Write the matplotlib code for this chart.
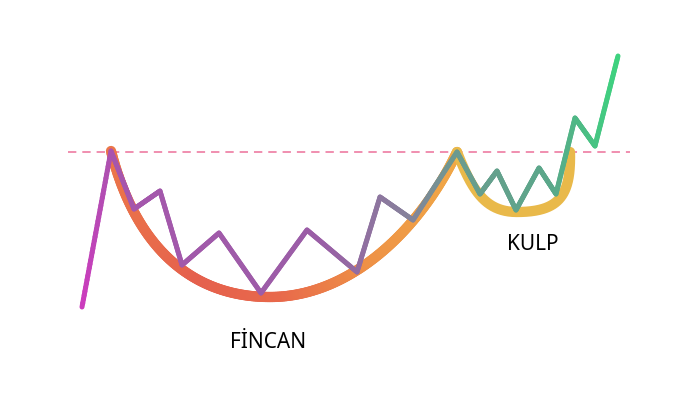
"""
 Title:         Cup and handle
 Description:   Draws a cup and handle pattern with a price line
"""

# Libraries
import numpy as np
import matplotlib
matplotlib.use("Agg")
import matplotlib.pyplot as plt
from matplotlib.collections import LineCollection
from matplotlib.colors import LinearSegmentedColormap

# Price path (x position, price)
price_x = [82, 111, 134, 160, 182, 219, 261, 307, 357, 380, 413, 457, 480, 497, 516, 539, 556, 575, 595, 618]
price_y = [93, 249, 191, 209, 135, 167, 107, 170, 128, 203, 180, 248, 206, 229, 190, 232, 206, 282, 254, 344]

# Cup and handle shapes (bezier control points)
cup_left_x = [111, 135, 190, 270]
cup_left_y = [249, 155, 103, 103]
cup_right_x = [270, 350, 420, 457]
cup_right_y = [103, 103, 170, 248]
handle_left_x = [457, 472, 485, 517]
handle_left_y = [248, 210, 188, 188]
handle_right_x = [517, 560, 571, 570]
handle_right_y = [188, 188, 205, 248]

# Resistance level and labels
resistance = 248
resistance_span = [68, 630]
labels = ["FİNCAN", "KULP"]
label_x = [268, 533]
label_y = [58, 155]

def bezier(xs:list, ys:list, n:int=120) -> tuple:
    """
    Samples a cubic bezier curve
    """
    t = np.linspace(0, 1, n)
    w = [(1-t)**3, 3*(1-t)**2*t, 3*(1-t)*t**2, t**3]
    x = sum(w[i]*xs[i] for i in range(4))
    y = sum(w[i]*ys[i] for i in range(4))
    return x, y

def gradient_line(ax, x, y, stops:list, lw:float, zorder:int) -> None:
    """
    Plots a line coloured by its x position
    """
    cmap = LinearSegmentedColormap.from_list("grad", stops)
    points = np.column_stack([x, y]).reshape(-1, 1, 2)
    segments = np.concatenate([points[:-1], points[1:]], axis=1)
    xm = (np.asarray(x)[:-1] + np.asarray(x)[1:]) / 2
    lc = LineCollection(segments, cmap=cmap, linewidths=lw, capstyle="round",
                        joinstyle="round", zorder=zorder)
    lc.set_array((xm - min(x)) / (max(x) - min(x)))
    lc.set_clim(0, 1)
    ax.add_collection(lc)

def densify(xs:list, ys:list, n:int=40) -> tuple:
    """
    Adds points along each straight segment so the gradient is smooth
    """
    x_out, y_out = [], []
    for i in range(len(xs)-1):
        t = np.linspace(0, 1, n, endpoint=False)
        x_out.extend(xs[i] + (xs[i+1]-xs[i])*t)
        y_out.extend(ys[i] + (ys[i+1]-ys[i])*t)
    x_out.append(xs[-1])
    y_out.append(ys[-1])
    return np.array(x_out), np.array(y_out)

# Initialise the plot
plt.rcParams["lines.scale_dashes"] = False
fig = plt.figure(figsize=(7, 4), dpi=100)
ax = fig.add_axes([0, 0, 1, 1])
ax.set_xlim(0, 700)
ax.set_ylim(0, 400)
ax.axis("off")

# Resistance line
ax.plot(resistance_span, [resistance, resistance], color="#ee7ba2", lw=1.2,
        dashes=(6, 4.3), zorder=1)

# Cup
lx, ly = bezier(cup_left_x, cup_left_y)
rx, ry = bezier(cup_right_x, cup_right_y)
cx = np.concatenate([lx, rx[1:]])
cy = np.concatenate([ly, ry[1:]])
gradient_line(ax, cx, cy, ["#eb7649", "#e5604d", "#e8694b", "#ee9146", "#f0a846"], 7.4, 2)

# Handle
hlx, hly = bezier(handle_left_x, handle_left_y)
hrx, hry = bezier(handle_right_x, handle_right_y)
hx = np.concatenate([hlx, hrx[1:]])
hy = np.concatenate([hly, hry[1:]])
ax.plot(hx, hy, color="#e9b94a", lw=7.4, solid_capstyle="round", zorder=3)

# Price line
px, py = densify(price_x, price_y)
gradient_line(ax, px, py, [(0, "#cb3cbd"), (0.06, "#a656ad"), (0.45, "#9a5ea6"),
                           (0.6, "#88809c"), (0.71, "#6a9c8e"), (0.88, "#5aa88a"),
                           (1, "#3ed27f")], 3.6, 4)

# Labels
for text, x, y in zip(labels, label_x, label_y):
    ax.text(x, y, text, fontsize=15, ha="center", va="center", color="black",
            family=["Noto Sans", "DejaVu Sans"])

plt.savefig("out.png", dpi=100)
plt.close()
